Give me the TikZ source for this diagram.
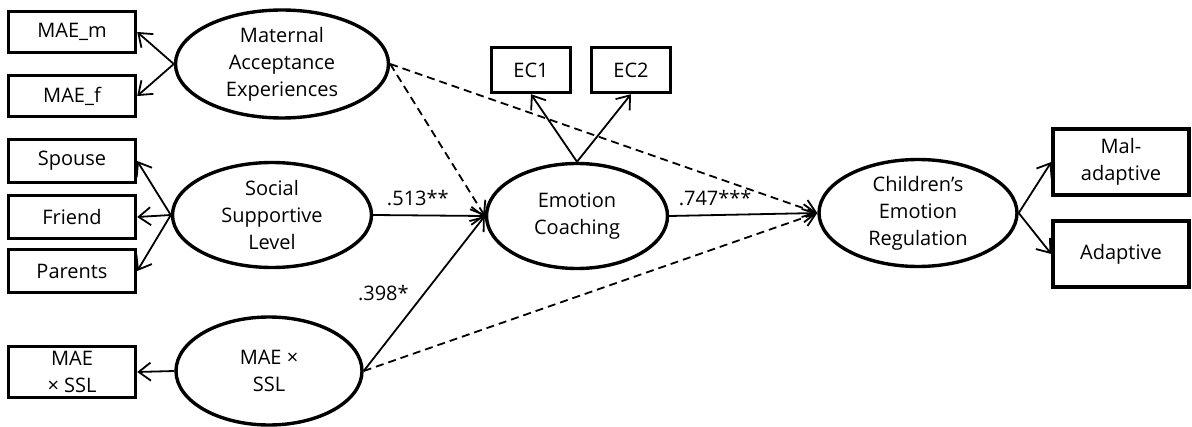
\documentclass[tikz,border=0pt]{standalone}
\usepackage{fontspec}
\setmainfont{Open Sans}
\usetikzlibrary{shapes.geometric,arrows.meta}

\begin{document}
\begin{tikzpicture}[x=0.5pt,y=-0.5pt]
\tikzstyle{every node}=[font=\fontsize{10}{13.5}\selectfont,align=center]
\tikzstyle{obs}=[draw,rectangle,line width=1.7pt,inner sep=0pt]
\tikzstyle{lat}=[draw,ellipse,line width=1.7pt,inner sep=0pt]
\tikzstyle{arr}=[line width=0.9pt,-{Straight Barb[length=6pt,width=9pt]}]
\tikzstyle{weak}=[arr,dash pattern=on 4pt off 2.5pt]

% Fix the size of the page
\useasboundingbox (0,0) rectangle (1192,427);

%
% Draw the predictors on the left
%

% Maternal acceptance and its indicators
\node[lat,minimum width=106.5pt,minimum height=54pt] (mae) at (282,64)
  {Maternal\\Acceptance\\Experiences};
\node[obs,minimum width=63.5pt,minimum height=20.5pt] (maem) at (72,32) {MAE\_m};
\node[obs,minimum width=63.5pt,minimum height=20.5pt] (maef) at (72,96) {MAE\_f};

% Social support and its indicators
\node[lat,minimum width=99.5pt,minimum height=52.5pt] (ssl) at (272,215)
  {Social\\Supportive\\Level};
\node[obs,minimum width=63.5pt,minimum height=21.5pt] (spouse) at (72,161) {Spouse};
\node[obs,minimum width=63.5pt,minimum height=21.5pt] (friend) at (72,217) {Friend};
\node[obs,minimum width=63.5pt,minimum height=21.5pt] (parents) at (72,271) {Parents};

% The interaction term
\node[lat,minimum width=93pt,minimum height=54pt] (inter) at (269,371)
  {MAE \texttimes\\SSL};
\node[obs,minimum width=63.5pt,minimum height=25.5pt] (interbox) at (72,372)
  {MAE\\\texttimes{} SSL};

%
% Draw the mediator
%

\node[lat,minimum width=90.5pt,minimum height=52.5pt] (ec) at (577,216)
  {Emotion\\Coaching};
\node[obs,minimum width=39.5pt,minimum height=22.5pt] (econe) at (531,70) {EC1};
\node[obs,minimum width=39.5pt,minimum height=22.5pt] (ectwo) at (631,70) {EC2};

%
% Draw the outcome
%

\node[lat,minimum width=99pt,minimum height=53.5pt] (cer) at (918,213)
  {Children’s\\Emotion\\Regulation};
\node[obs,minimum width=68pt,minimum height=33pt] (mal) at (1121,162)
  {Mal-\\adaptive};
\node[obs,minimum width=68pt,minimum height=33pt] (adapt) at (1121,254)
  {Adaptive};

%
% Draw the measurement arrows
%

\draw[arr] (mae.west) -- (maem.east);
\draw[arr] (mae.west) -- (maef.east);
\draw[arr] (ssl.west) -- (spouse.east);
\draw[arr] (ssl.west) -- (friend.east);
\draw[arr] (ssl.west) -- (parents.east);
\draw[arr] (inter.west) -- (interbox.east);
\draw[arr] (ec.north) -- (econe.south);
\draw[arr] (ec.north) -- (ectwo.south);
\draw[arr] (cer.east) -- (mal.west);
\draw[arr] (cer.east) -- (adapt.west);

%
% Draw the structural paths
%

% Significant paths
\draw[arr] (ssl.east) -- node[pos=0.4,above=1pt] {.513**} (ec.west);
\draw[arr] (inter.east) -- node[pos=0.5,left=4pt] {.398*} (ec.west);
\draw[arr] (ec.east) -- node[pos=0.31,above=1pt] {.747***} (cer.west);

% Paths that are not significant
\draw[weak] (mae.east) -- (ec.west);
\draw[weak] (mae.east) -- (cer.west);
\draw[weak] (inter.east) -- (cer.west);

\end{tikzpicture}
\end{document}
